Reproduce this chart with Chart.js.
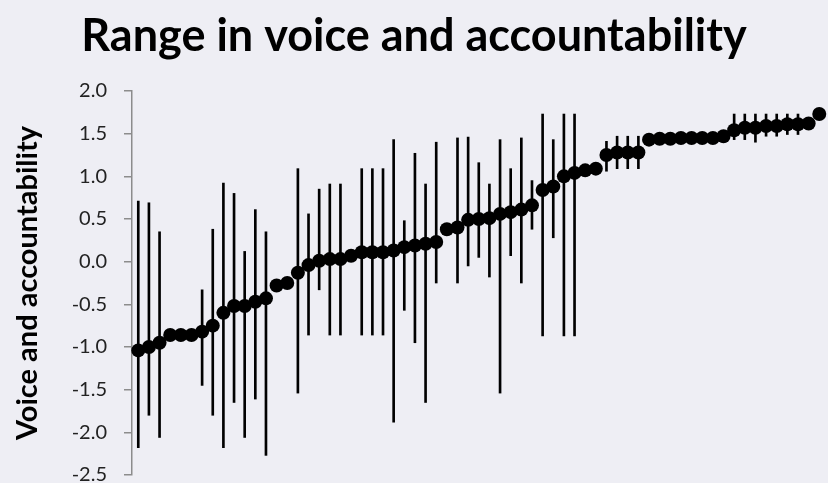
<!DOCTYPE html>
<html>
<head>
<meta charset="utf-8">
<script src="https://cdn.jsdelivr.net/npm/chart.js@4.4.1/dist/chart.umd.min.js"></script>
<style>
  html, body { margin: 0; padding: 0; background: #eeeef4; }
  #wrap { width: 828px; height: 483px; }
</style>
</head>
<body>
<div id="wrap"><canvas id="rangeChart" width="828" height="483"></canvas></div>
<script>
// Countries ranked by their voice and accountability score (sorted ascending)
const meanScores = [
  -1.04, -1.00, -0.95, -0.86, -0.86, -0.86, -0.82, -0.75, -0.60, -0.52,
  -0.52, -0.47, -0.43, -0.28, -0.25, -0.13, -0.04, 0.01, 0.03, 0.03,
  0.07, 0.11, 0.11, 0.11, 0.13, 0.17, 0.19, 0.21, 0.23, 0.38,
  0.40, 0.49, 0.50, 0.51, 0.56, 0.58, 0.61, 0.66, 0.84, 0.88,
  1.00, 1.04, 1.07, 1.09, 1.25, 1.28, 1.28, 1.28, 1.43, 1.44,
  1.44, 1.45, 1.45, 1.45, 1.45, 1.47, 1.54, 1.57, 1.57, 1.59,
  1.59, 1.61, 1.61, 1.62, 1.73
];

// Lowest and highest estimate for each country (null = no range shown)
const lowScores = [
  -2.18, -1.80, -2.06, null, null, null, -1.45, -1.80, -2.18, -1.65,
  -2.06, -1.61, -2.27, null, null, -1.54, -0.86, -0.33, -0.86, -0.86,
  null, -0.86, -0.86, -0.86, -1.88, -0.57, -0.95, -1.65, -0.25, null,
  -0.25, -0.05, 0.05, -0.18, -1.54, 0.07, -0.25, 0.38, -0.87, 0.28,
  -0.87, -0.87, null, null, 1.06, 1.09, 1.09, 1.09, null, null,
  null, null, null, null, null, null, 1.43, 1.43, 1.40, 1.47,
  1.47, 1.49, 1.49, null, null
];
const highScores = [
  0.71, 0.69, 0.35, null, null, null, -0.33, 0.38, 0.92, 0.80,
  0.12, 0.61, 0.35, null, null, 1.09, 0.56, 0.85, 0.91, 0.91,
  null, 1.09, 1.09, 1.09, 1.43, 0.48, 1.27, 0.91, 1.40, null,
  1.45, 1.46, 1.16, 0.91, 1.43, 1.09, 1.45, 0.95, 1.73, 1.43,
  1.73, 1.73, null, null, 1.41, 1.47, 1.47, 1.47, null, null,
  null, null, null, null, null, null, 1.73, 1.73, 1.73, 1.73,
  1.73, 1.73, 1.73, null, null
];

const yTicks = [-2.5, -2.0, -1.5, -1.0, -0.5, 0.0, 0.5, 1.0, 1.5, 2.0];

const chartTitle = 'Range in voice and accountability';
const axisTitle = 'Voice and accountability';

document.addEventListener('DOMContentLoaded', function() {
    drawRangeChart();
});

function drawRangeChart() {
    const canvas = document.getElementById('rangeChart');
    if (!canvas) return;

    const points = meanScores.map((v, i) => ({ x: i, y: v }));
    const ranges = [];
    lowScores.forEach((lo, i) => {
        if (lo !== null && highScores[i] !== null) {
            ranges.push({ x: i, y: [lo, highScores[i]] });
        }
    });

    const axisGrey = '#8c8c8c';

    new Chart(canvas.getContext('2d'), {
        type: 'bar',
        data: {
            datasets: [
                {
                    type: 'scatter',
                    data: points,
                    showLine: false,
                    pointRadius: 7,
                    pointHoverRadius: 7,
                    backgroundColor: '#000',
                    borderColor: '#000',
                    borderWidth: 0,
                    clip: false,
                    order: 1
                },
                {
                    type: 'bar',
                    data: ranges,
                    backgroundColor: '#000',
                    barThickness: 2,
                    order: 0
                }
            ]
        },
        options: {
            responsive: false,
            animation: false,
            layout: {
                autoPadding: false,
                padding: { left: 0, right: 0, top: 0, bottom: 8 }
            },
            plugins: {
                legend: { display: false },
                tooltip: { enabled: false },
                title: {
                    display: true,
                    text: chartTitle,
                    color: '#000',
                    font: { family: 'Lato', size: 45, weight: 'bold', lineHeight: 1.2 },
                    padding: { top: 9, bottom: 28 }
                }
            },
            scales: {
                x: {
                    type: 'linear',
                    display: false,
                    offset: false,
                    min: -0.59,
                    max: 64.82
                },
                y: {
                    min: -2.5,
                    max: 2.0,
                    afterBuildTicks: axis => {
                        axis.ticks = yTicks.map(v => ({ value: v }));
                    },
                    afterFit: axis => {
                        // fixed axis width; label overhang handled by layout padding
                        axis.width = 132;
                        axis.paddingTop = 0;
                        axis.paddingBottom = 0;
                    },
                    ticks: {
                        color: '#222',
                        padding: 17,
                        font: { family: 'Lato', size: 20 },
                        callback: v => Number(v).toFixed(1)
                    },
                    grid: {
                        drawOnChartArea: false,
                        tickLength: 8,
                        color: axisGrey,
                        lineWidth: 1.5
                    },
                    border: { color: axisGrey, width: 1.5 },
                    title: {
                        display: true,
                        text: axisTitle,
                        color: '#000',
                        font: { family: 'Lato', size: 29, weight: 'bold', lineHeight: 1.2 },
                        padding: { top: 10, bottom: 0 }
                    }
                }
            }
        }
    });
}
</script>
</body>
</html>
